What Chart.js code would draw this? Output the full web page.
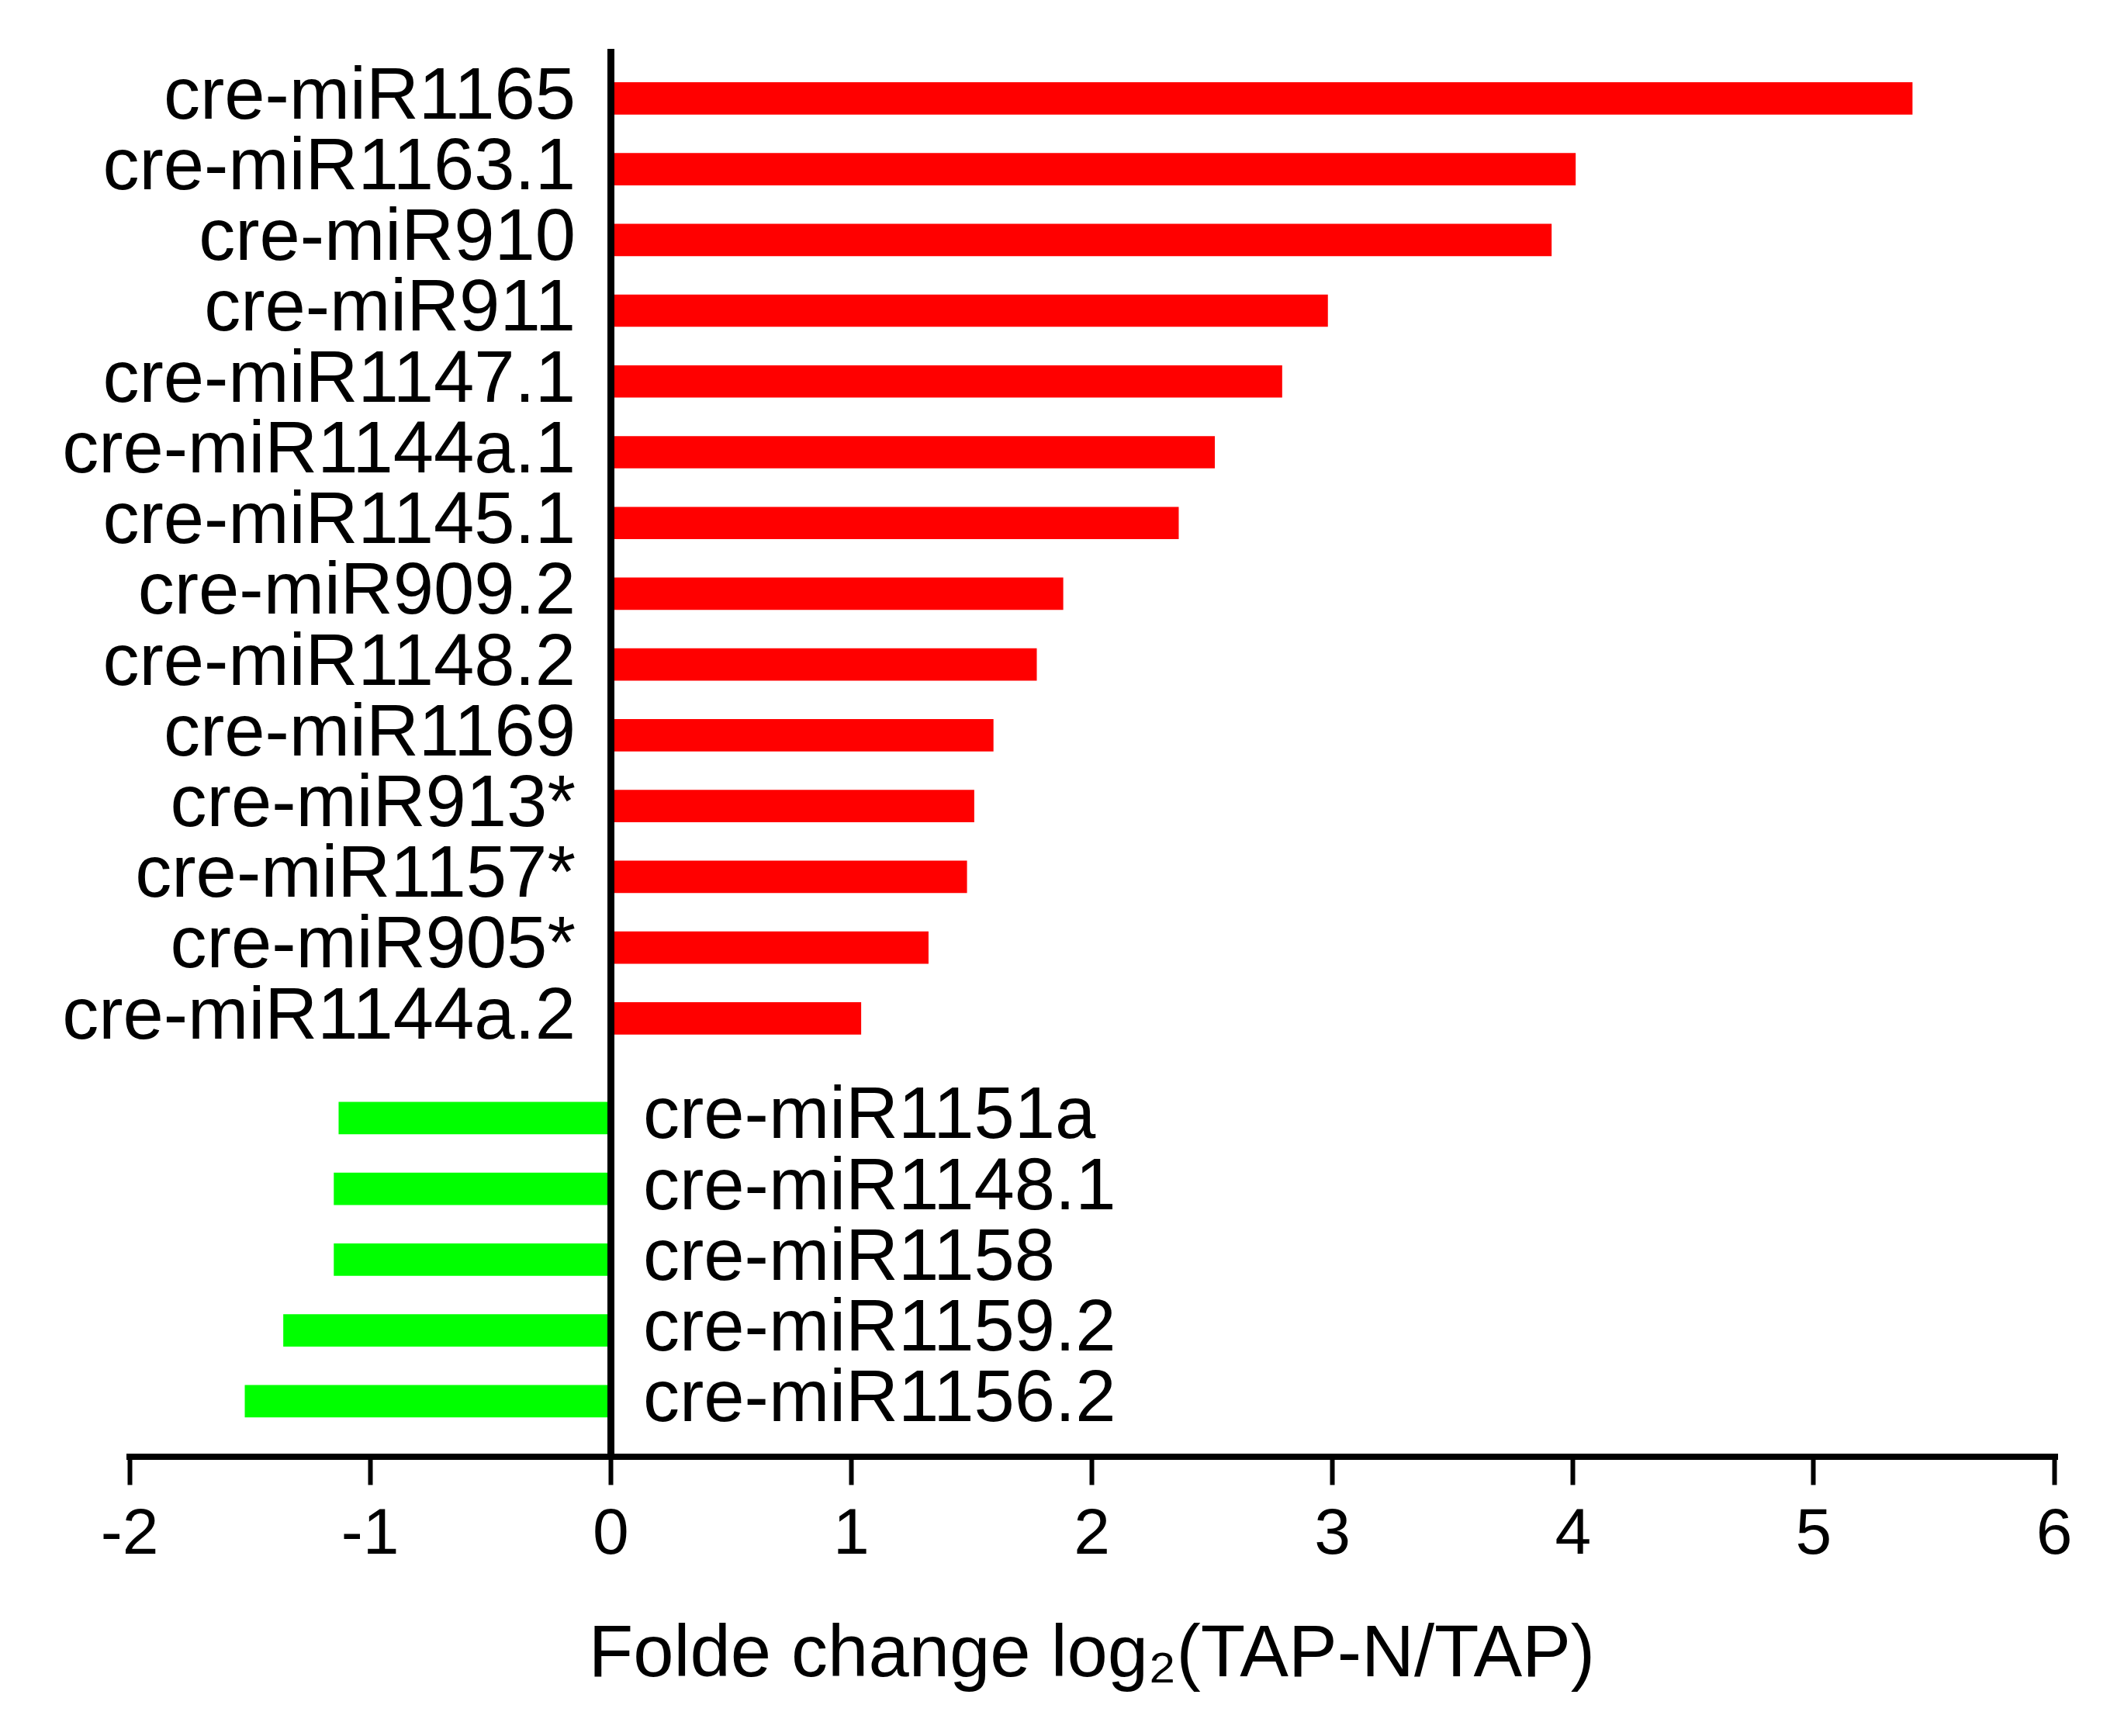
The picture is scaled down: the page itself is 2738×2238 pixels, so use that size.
<!DOCTYPE html>
<html>
<head>
<meta charset="utf-8">
<script src="https://cdn.jsdelivr.net/npm/chart.js@4.4.1/dist/chart.umd.min.js"></script>
<style>
    html, body { margin: 0; padding: 0; background: #ffffff; }
    #wrap { width: 2738px; height: 2238px; }
</style>
</head>
<body>
<div id="wrap"><canvas id="foldChart" width="2738" height="2238"></canvas></div>
<script>
// Дані: підвищені (червоні) та знижені (зелені) мікроРНК
const upLabels = ['cre-miR1165', 'cre-miR1163.1', 'cre-miR910', 'cre-miR911', 'cre-miR1147.1',
    'cre-miR1144a.1', 'cre-miR1145.1', 'cre-miR909.2', 'cre-miR1148.2', 'cre-miR1169',
    'cre-miR913*', 'cre-miR1157*', 'cre-miR905*', 'cre-miR1144a.2'];
const upValues = [5.41, 4.01, 3.91, 2.98, 2.79, 2.51, 2.36, 1.88, 1.77, 1.59, 1.51, 1.48, 1.32, 1.04];

const downLabels = ['cre-miR1151a', 'cre-miR1148.1', 'cre-miR1158', 'cre-miR1159.2', 'cre-miR1156.2'];
const downValues = [-1.13, -1.15, -1.15, -1.36, -1.52];

const xTicks = [-2, -1, 0, 1, 2, 3, 4, 5, 6];

// зелена група трохи відсунута від червоної
const groupGap = 0.41;
const upPos = upLabels.map((_, i) => i);
const downPos = downLabels.map((_, i) => upLabels.length + groupGap + i);

const labelFont = { family: "'Liberation Sans', Arial, sans-serif", size: 94 };

new Chart(document.getElementById('foldChart'), {
    type: 'bar',
    data: {
        datasets: [{
            label: 'up',
            data: upValues.map((v, i) => ({ x: v, y: upPos[i] })),
            backgroundColor: '#ff0000',
            barThickness: 41,
            grouped: false
        }, {
            label: 'down',
            data: downValues.map((v, i) => ({ x: v, y: downPos[i] })),
            backgroundColor: '#00ff00',
            barThickness: 41,
            grouped: false
        }]
    },
    options: {
        indexAxis: 'y',
        responsive: false,
        animation: false,
        layout: {
            padding: { left: 167, right: 90, top: 63, bottom: 47 }
        },
        plugins: {
            legend: { display: false },
            tooltip: { enabled: false }
        },
        scales: {
            x: {
                type: 'linear',
                position: 'bottom',
                min: xTicks[0],
                max: xTicks[xTicks.length - 1],
                afterBuildTicks: (scale) => { scale.ticks = xTicks.map(v => ({ value: v })); },
                // рамка і сітка в одному шарі, щоб лінія осі малювалась знизу
                border: { color: '#000000', width: 8, z: 1 },
                grid: {
                    // лише нульова лінія, поверх смуг
                    z: 1,
                    drawOnChartArea: true,
                    color: (ctx) => (ctx.tick && ctx.tick.value === 0) ? '#000000' : 'rgba(0,0,0,0)',
                    lineWidth: 9,
                    drawTicks: true,
                    tickLength: 36,
                    tickWidth: 6,
                    tickColor: '#000000'
                },
                ticks: {
                    color: '#000000',
                    padding: 15,
                    font: { family: "'Liberation Sans', Arial, sans-serif", size: 84 }
                },
                title: {
                    display: true,
                    text: 'Folde change log₂(TAP-N/TAP)',
                    color: '#000000',
                    font: { family: "'Liberation Sans', Arial, sans-serif", size: 94 },
                    padding: { top: 33, bottom: 0 }
                }
            },
            y: {
                type: 'linear',
                position: { x: -0.146 },
                reverse: true,
                offset: false,
                min: -0.7,
                max: 19.2,
                afterBuildTicks: (scale) => { scale.ticks = upPos.map(v => ({ value: v })); },
                border: { display: false },
                grid: { display: false, drawTicks: false },
                ticks: {
                    autoSkip: false,
                    color: '#000000',
                    font: labelFont,
                    callback: (value) => upLabels[upPos.indexOf(value)]
                }
            },
            yDown: {
                type: 'linear',
                axis: 'y',
                position: 'left',
                reverse: true,
                offset: false,
                min: -0.7,
                max: 19.2,
                afterBuildTicks: (scale) => { scale.ticks = downPos.map(v => ({ value: v })); },
                // підписи праворуч від нуля: вісь не повинна забирати місце
                afterFit: (scale) => {
                    scale.width = 0;
                    scale.paddingTop = 0;
                    scale.paddingBottom = 0;
                },
                border: { display: false },
                grid: { display: false, drawTicks: false },
                ticks: {
                    autoSkip: false,
                    mirror: true,
                    crossAlign: 'near',
                    padding: 662,
                    color: '#000000',
                    font: labelFont,
                    callback: (value) => downLabels[downPos.indexOf(value)]
                }
            }
        }
    }
});
</script>
</body>
</html>
